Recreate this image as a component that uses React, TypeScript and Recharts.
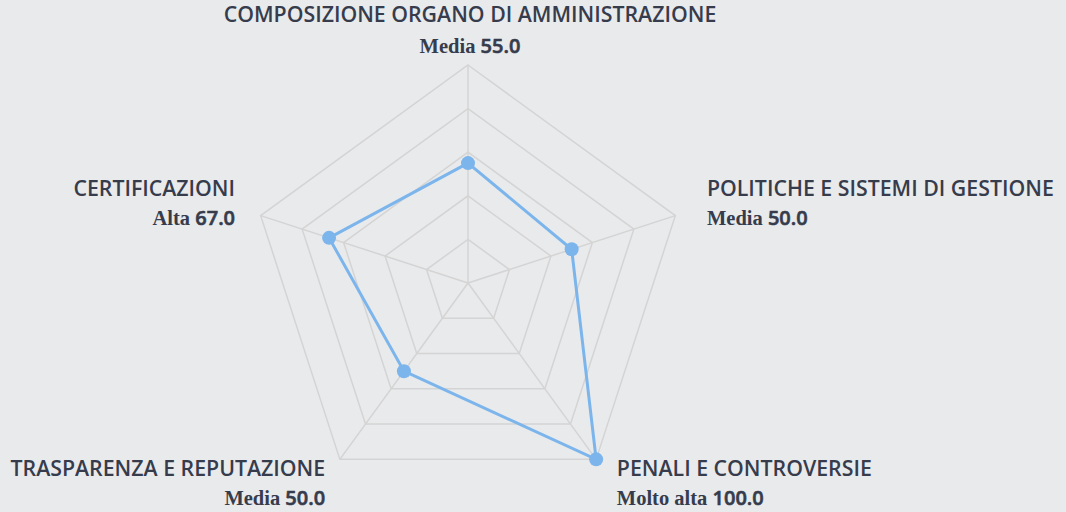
import { RadarChart, Radar, PolarGrid, PolarAngleAxis, PolarRadiusAxis } from "recharts";

const categories = [
  "COMPOSIZIONE ORGANO DI AMMINISTRAZIONE",
  "POLITICHE E SISTEMI DI GESTIONE",
  "PENALI E CONTROVERSIE",
  "TRASPARENZA E REPUTAZIONE",
  "CERTIFICAZIONI",
];
const scores = [55, 50, 100, 50, 67];
const levels = ["Media", "Media", "Molto alta", "Media", "Alta"];

const data = categories.map((name, i) => ({ name, score: scores[i] }));

// label placement per vertex: x shift, baseline shifts of both lines, anchor
const labelPos = [
  { dx: 2, y1: -35, y2: -4, anchor: "middle" },
  { dx: 24, y1: -17, y2: 12, anchor: "start" },
  { dx: 16, y1: 10, y2: 39, anchor: "start" },
  { dx: -10, y1: 10, y2: 39, anchor: "end" },
  { dx: -18, y1: -17, y2: 12, anchor: "end" },
];

const textColor = "#363c4c";
const sans = "Open Sans, sans-serif";
const serif = "Liberation Serif, serif";

function AxisLabel(props: any) {
  const { x, y, payload } = props;
  const i = categories.indexOf(payload.value);
  const p = labelPos[i];
  return (
    <g>
      <text
        x={x + p.dx}
        y={y + p.y1}
        textAnchor={p.anchor}
        fill={textColor}
        fontFamily={sans}
        fontSize={21.3}
        fontWeight={600}
      >
        {payload.value}
      </text>
      <text x={x + p.dx} y={y + p.y2} textAnchor={p.anchor} fill={textColor} fontFamily={sans} fontSize={20} fontWeight={600}>
        <tspan fontFamily={serif} fontSize={20.5} fontWeight={700}>
          {levels[i]}
        </tspan>
        <tspan stroke={textColor} strokeWidth={0.6}>{" " + scores[i].toFixed(1)}</tspan>
      </text>
    </g>
  );
}

export default function App() {
  return (
    <div
      style={{
        position: "absolute",
        left: 0,
        top: 0,
        width: 1066,
        height: 512,
        background: "#e9eaec",
      }}
    >
      <RadarChart width={1066} height={512} data={data} cx={468} cy={283} outerRadius={218}>
        <PolarGrid gridType="polygon" stroke="#d4d4d4" strokeWidth={1.5} />
        <PolarAngleAxis dataKey="name" tick={<AxisLabel />} tickLine={false} axisLine={false} />
        <PolarRadiusAxis domain={[0, 100]} tickCount={6} tick={false} axisLine={false} />
        <Radar
          dataKey="score"
          stroke="#7cb5ec"
          strokeWidth={3}
          fill="#7cb5ec"
          fillOpacity={0}
          dot={{ r: 7, fill: "#7cb5ec", stroke: "none", fillOpacity: 1 }}
          isAnimationActive={false}
        />
      </RadarChart>
    </div>
  );
}
